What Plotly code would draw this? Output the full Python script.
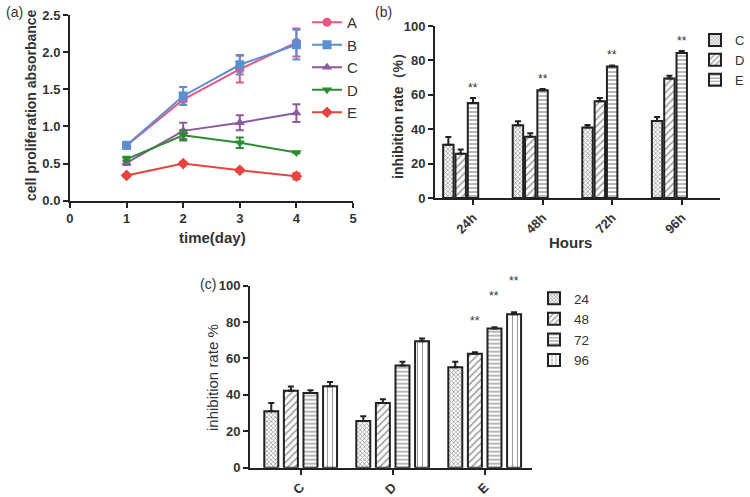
import numpy as np
import plotly.graph_objects as go

# ---------------- data ----------------
# (a) cell proliferation absorbance
days = [1, 2, 3, 4]
groups_a = ["A", "B", "C", "D", "E"]
A_val = [0.745, 1.36, 1.77, 2.13]
A_err = [0.02, 0.03, 0.18, 0.19]
B_val = [0.745, 1.41, 1.83, 2.10]
B_err = [0.02, 0.12, 0.13, 0.20]
C_val = [0.51, 0.94, 1.05, 1.18]
C_err = [0.03, 0.11, 0.10, 0.12]
D_val = [0.56, 0.88, 0.78, 0.65]
D_err = [0.03, 0.07, 0.07, 0.01]
E_val = [0.34, 0.50, 0.41, 0.33]
E_err = [0.02, 0.02, 0.02, 0.04]

# (b) inhibition rate by hour, groups C, D, E
hours = ["24h", "48h", "72h", "96h"]
inhC = [31.0, 42.3, 41.0, 44.8]
inhC_err = [4.5, 2.3, 1.5, 2.3]
inhD = [25.7, 35.6, 56.2, 69.5]
inhD_err = [2.5, 2.0, 2.0, 1.5]
inhE = [55.2, 62.6, 76.5, 84.3]
inhE_err = [3.0, 0.8, 0.6, 1.1]
sig_b = ["**", "**", "**", "**"]

# (c) same data, grouped by treatment
groups_c = ["C", "D", "E"]
hour_labels_c = ["24", "48", "72", "96"]
sig_c_E = ["", "**", "**", "**"]

# ---------------- style ----------------
FONT = "Arial, Liberation Sans, sans-serif"
AX = "#222222"
TXT = "#333333"
colors_a = ["#e8587f", "#5b8fcf", "#8d5aa0", "#2e8a33", "#e8433e"]
symbols_a = ["circle", "square", "triangle-up", "triangle-down", "diamond"]
patterns = [
    dict(shape="x", size=3, solidity=0.45),
    dict(shape="/", size=5, solidity=0.3),
    dict(shape="-", size=4, solidity=0.35),
    dict(shape="|", size=5, solidity=0.2),
]

fig = go.Figure()

# ---- (a) lines ----
vals_a = [A_val, B_val, C_val, D_val, E_val]
errs_a = [A_err, B_err, C_err, D_err, E_err]
for i, g in enumerate(groups_a):
    fig.add_trace(go.Scatter(
        x=days, y=vals_a[i], name=g, mode="lines+markers",
        line=dict(color=colors_a[i], width=2),
        marker=dict(symbol=symbols_a[i], size=9, color=colors_a[i]),
        error_y=dict(type="data", array=errs_a[i], color=colors_a[i], thickness=2, width=4),
        xaxis="x", yaxis="y", legend="legend", legendgroup=g, cliponaxis=False,
    ))

# ---- (b) bars grouped by hour ----
spacing_b, width_b = 0.177, 0.15
off_b = (np.arange(3) - 2) * spacing_b
vals_b = [inhC, inhD, inhE]
errs_b = [inhC_err, inhD_err, inhE_err]
for i, g in enumerate(groups_c):
    fig.add_trace(go.Bar(
        x=np.arange(len(hours)) + off_b[i], y=vals_b[i], name=g, width=width_b,
        marker=dict(color="white", line=dict(color=AX, width=2),
                    pattern=dict(fgcolor="#333", bgcolor="white", **patterns[i])),
        error_y=dict(type="data", array=errs_b[i], arrayminus=[0] * len(hours),
                     symmetric=False, color=AX, thickness=2, width=3),
        xaxis="x2", yaxis="y2", legend="legend2",
    ))

# ---- (c) bars grouped by treatment ----
spacing_c, width_c = 0.213, 0.152
off_c = (np.arange(4) - 1.5) * spacing_c
for j, h in enumerate(hour_labels_c):
    yv = [inhC[j], inhD[j], inhE[j]]
    ye = [inhC_err[j], inhD_err[j], inhE_err[j]]
    fig.add_trace(go.Bar(
        x=np.arange(len(groups_c)) + off_c[j], y=yv, name=h, width=width_c,
        marker=dict(color="white", line=dict(color=AX, width=2),
                    pattern=dict(fgcolor="#333", bgcolor="white", **patterns[j])),
        error_y=dict(type="data", array=ye, arrayminus=[0] * 3,
                     symmetric=False, color=AX, thickness=2, width=3),
        xaxis="x3", yaxis="y3", legend="legend3",
    ))

ann = []
for k, s in enumerate(sig_b):
    ann.append(dict(x=k + off_b[2], y=inhE[k] + inhE_err[k], xref="x2", yref="y2",
                    text=s, showarrow=False, yanchor="bottom", yshift=1,
                    font=dict(size=12, color=TXT, family=FONT)))
for j, s in enumerate(sig_c_E):
    if s:
        ann.append(dict(x=2 + off_c[j], y=inhE[j] + inhE_err[j], xref="x3", yref="y3",
                        text=s, showarrow=False, yanchor="bottom", yshift=22,
                        font=dict(size=12, color=TXT, family=FONT)))

def lab(text, x, y, size=14, weight="normal", angle=0):
    return dict(text=text, x=x / 750, y=1 - y / 497, xref="paper", yref="paper",
                showarrow=False, textangle=angle, xanchor="center", yanchor="middle",
                font=dict(size=size, family=FONT, color=TXT, weight=weight))

ann += [
    lab("(a)", 14, 12, 14),
    lab("(b)", 383, 12, 14),
    lab("(c)", 208, 284, 14),
    lab("cell proliferation absorbance", 31, 105, 14, "bold", -90),
    lab("time(day)", 212, 237, 15, "bold"),
    lab("inhibition rate（%）", 398, 112, 14, "bold", -90),
    lab("Hours", 570, 242, 15, "bold"),
    lab("inhibition rate %", 212, 378, 15, "normal", -90),
]

def axis(**kw):
    d = dict(showline=True, linecolor=AX, linewidth=2, ticks="outside", ticklen=5,
             tickwidth=2, tickcolor=AX, showgrid=False, zeroline=False,
             tickfont=dict(size=13, family=FONT, color=TXT, weight="bold"))
    d.update(kw)
    return d

fig.update_layout(
    width=750, height=497, autosize=False,
    margin=dict(l=0, r=0, t=0, b=0, autoexpand=False),
    paper_bgcolor="white", plot_bgcolor="white",
    barmode="overlay", showlegend=True,
    xaxis=axis(domain=[0.0933, 0.4707], range=[0, 5], dtick=1, anchor="y"),
    yaxis=axis(domain=[0.5962, 0.9698], range=[0, 2.5], dtick=0.5, tickformat=".1f", anchor="x"),
    xaxis2=axis(domain=[0.58, 0.96], range=[-0.546, 3.55], tickvals=list(range(4)),
                ticktext=hours, tickangle=-45, anchor="y2"),
    yaxis2=axis(domain=[0.6016, 0.9477], range=[0, 100], dtick=20, anchor="x2"),
    xaxis3=axis(domain=[0.3333, 0.7093], range=[-0.551, 2.514], tickvals=list(range(3)),
                ticktext=groups_c, tickangle=-45, anchor="y3"),
    yaxis3=axis(domain=[0.059, 0.4252], range=[0, 100], dtick=20, anchor="x3"),
    legend=dict(x=307 / 750, y=1 - 6 / 497, xanchor="left", yanchor="top",
                font=dict(size=15, family=FONT, color=TXT), bgcolor="rgba(0,0,0,0)",
                tracegroupgap=0),
    legend2=dict(x=695 / 750, y=1 - 25 / 497, xanchor="left", yanchor="top",
                 font=dict(size=13, family=FONT, color=TXT), bgcolor="rgba(0,0,0,0)"),
    legend3=dict(x=534 / 750, y=1 - 283 / 497, xanchor="left", yanchor="top",
                 font=dict(size=13.5, family=FONT, color=TXT), bgcolor="rgba(0,0,0,0)"),
    annotations=ann,
)

fig.write_html("out.html", config={"displayModeBar": False},
               post_script="document.body.style.margin='0';document.body.style.padding='0';")
